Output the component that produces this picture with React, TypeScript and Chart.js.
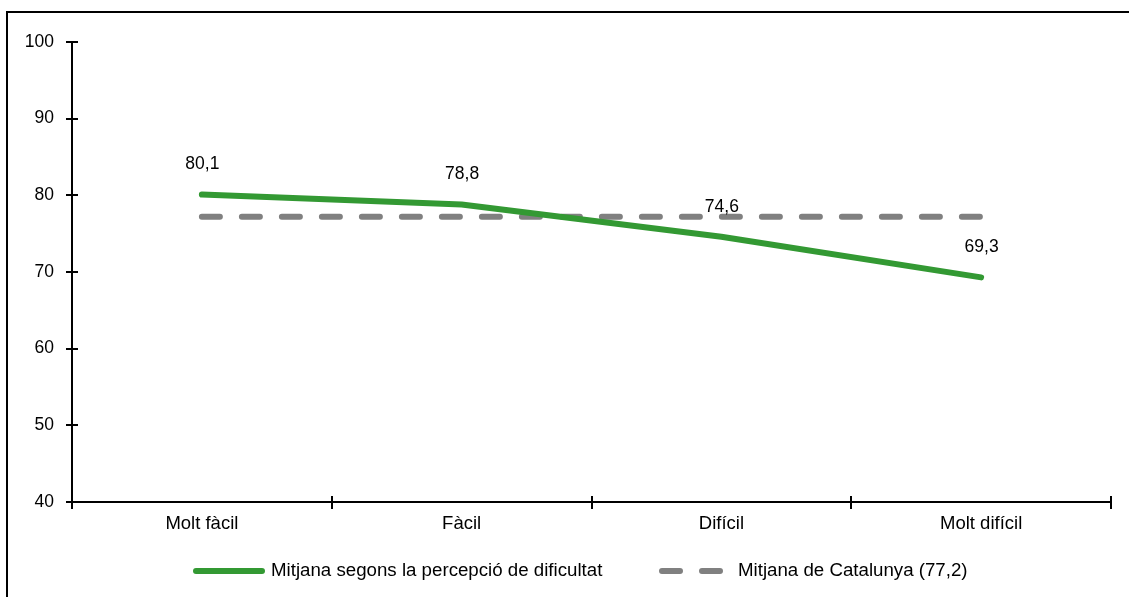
import React, { useEffect, useRef } from "react";
import { Chart, registerables } from "chart.js";

Chart.register(...registerables);

const categories = ["Molt fàcil", "Fàcil", "Difícil", "Molt difícil"];
const perceptionValues = [80.1, 78.8, 74.6, 69.3];
const catalunyaValues = [77.2, 77.2, 77.2, 77.2];
const perceptionLabels = ["80,1", "78,8", "74,6", "69,3"];
const seriesNames = ["Mitjana segons la percepció de dificultat", "Mitjana de Catalunya (77,2)"];
const yTicks = [40, 50, 60, 70, 80, 90, 100];

const GREEN = "#339933";
const GREY = "#808080";
const FAMILY = "Arial, 'Liberation Sans', sans-serif";

const axesPlugin = {
  id: "customAxes",
  beforeDatasetsDraw(chart: any) {
    const { ctx, chartArea, scales } = chart;
    const x = scales.x;
    const y = scales.y;
    ctx.save();
    ctx.strokeStyle = "#000";
    ctx.lineWidth = 2;
    ctx.lineCap = "butt";
    ctx.beginPath();
    ctx.moveTo(chartArea.left, chartArea.top);
    ctx.lineTo(chartArea.left, chartArea.bottom);
    ctx.lineTo(chartArea.right, chartArea.bottom);
    ctx.stroke();
    ctx.beginPath();
    yTicks.forEach((v) => {
      const py = Math.round(y.getPixelForValue(v));
      ctx.moveTo(chartArea.left - 6, py);
      ctx.lineTo(chartArea.left + 6, py);
    });
    for (let i = 0; i <= categories.length; i++) {
      const px = Math.round(x.getPixelForValue(i - 0.5));
      ctx.moveTo(px, chartArea.bottom - 6);
      ctx.lineTo(px, chartArea.bottom + 7);
    }
    ctx.stroke();
    ctx.restore();
  },
  afterDatasetsDraw(chart: any) {
    const { ctx } = chart;
    const meta = chart.getDatasetMeta(0);
    ctx.save();
    ctx.fillStyle = "#000";
    ctx.font = "17.5px " + FAMILY;
    ctx.textAlign = "center";
    ctx.textBaseline = "middle";
    meta.data.forEach((pt: any, i: number) => {
      ctx.fillText(perceptionLabels[i], pt.x + 0.5, pt.y - 30);
    });
    ctx.restore();
  },
  afterDraw(chart: any) {
    const { ctx } = chart;
    const ly = 571;
    ctx.save();
    ctx.lineWidth = 6;
    ctx.lineCap = "round";
    ctx.strokeStyle = GREEN;
    ctx.beginPath();
    ctx.moveTo(196, ly);
    ctx.lineTo(262, ly);
    ctx.stroke();
    ctx.strokeStyle = GREY;
    ctx.setLineDash([18, 22]);
    ctx.beginPath();
    ctx.moveTo(662, ly);
    ctx.lineTo(724, ly);
    ctx.stroke();
    ctx.setLineDash([]);
    ctx.fillStyle = "#000";
    ctx.font = "18.7px " + FAMILY;
    ctx.textAlign = "left";
    ctx.textBaseline = "middle";
    ctx.fillText(seriesNames[0], 271, ly);
    ctx.fillText(seriesNames[1], 738, ly);
    ctx.restore();
  },
};

export default function App() {
  const canvasRef = useRef<HTMLCanvasElement | null>(null);

  useEffect(() => {
    const canvas = canvasRef.current;
    if (!canvas) return;
    const chart = new Chart(canvas, {
      type: "line",
      data: {
        labels: categories,
        datasets: [
          {
            label: seriesNames[0],
            data: perceptionValues,
            borderColor: GREEN,
            backgroundColor: GREEN,
            borderWidth: 6,
            borderCapStyle: "round",
            borderJoinStyle: "round",
            pointRadius: 0,
            tension: 0,
          },
          {
            label: seriesNames[1],
            data: catalunyaValues,
            borderColor: GREY,
            backgroundColor: GREY,
            borderWidth: 6,
            borderDash: [18, 22],
            borderCapStyle: "round",
            pointRadius: 0,
            tension: 0,
          },
        ],
      },
      options: {
        animation: false,
        responsive: false,
        devicePixelRatio: 1,
        layout: { padding: { left: 12, right: 18, top: 42, bottom: 55 } },
        plugins: {
          legend: { display: false },
          tooltip: { enabled: false },
        },
        scales: {
          x: {
            type: "category",
            offset: true,
            grid: { display: false, drawTicks: false },
            border: { display: false },
            ticks: {
              color: "#000",
              padding: 11,
              font: { family: FAMILY, size: 18.5 },
              maxRotation: 0,
              autoSkip: false,
            },
            afterFit(scale: any) {
              scale.height = 40;
            },
          },
          y: {
            min: 40,
            max: 100,
            grid: { display: false, drawTicks: false },
            border: { display: false },
            afterBuildTicks(scale: any) {
              scale.ticks = yTicks.map((v) => ({ value: v }));
            },
            ticks: {
              color: "#000",
              padding: 18,
              font: { family: FAMILY, size: 17.5 },
            },
            afterFit(scale: any) {
              scale.width = 60;
            },
          },
        },
      },
      plugins: [axesPlugin],
    });
    return () => chart.destroy();
  }, []);

  return (
    <div
      style={{
        position: "fixed",
        left: 0,
        top: 0,
        width: 1129,
        height: 597,
        overflow: "hidden",
        background: "#fff",
      }}
    >
      <div
        style={{
          position: "absolute",
          left: 6,
          top: 11,
          width: 1140,
          height: 620,
          border: "2px solid #000",
          boxSizing: "border-box",
        }}
      />
      <canvas
        ref={canvasRef}
        width={1129}
        height={597}
        style={{ position: "absolute", left: 0, top: 0, width: 1129, height: 597 }}
      />
    </div>
  );
}
